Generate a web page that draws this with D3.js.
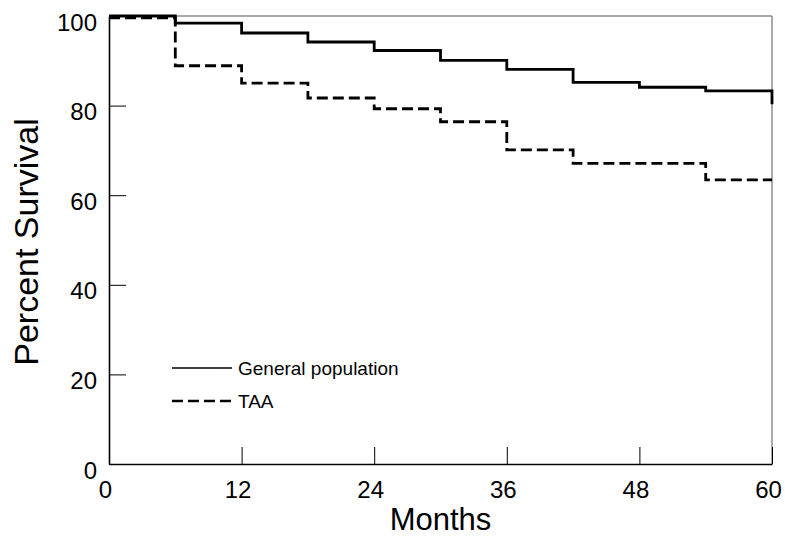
<!DOCTYPE html>
<html>
<head>
<meta charset="utf-8">
<script src="https://cdn.jsdelivr.net/npm/d3@7"></script>
<style>
  body { margin: 0; background: #fff; }
  svg { display: block; font-family: "Liberation Sans", Arial, Helvetica, sans-serif; }
</style>
</head>
<body>
<div id="chart"></div>
<script>
// Kaplan-Meier style survival steps
var months = [0, 6, 12, 18, 24, 30, 36, 42, 48, 54, 60];
var generalPopulation = [100, 98.4, 96.2, 94.2, 92.3, 90.1, 88.1, 85.2, 84.1, 83.3, 80.3];
var taa = [99.6, 88.9, 85.0, 81.7, 79.3, 76.4, 70.1, 67.1, 67.1, 63.4, 63.4];
var xTicks = [0, 12, 24, 36, 48, 60];
var yTicks = [0, 20, 40, 60, 80, 100];
var seriesNames = ["General population", "TAA"];

var margin = {top: 16, right: 13, bottom: 74, left: 109},
    width = 785 - margin.left - margin.right,
    height = 538 - margin.top - margin.bottom;

var x = d3.scaleLinear().domain([0, 60]).range([0, width]);
var y = d3.scaleLinear().domain([0, 100]).range([height, 0]);

var svg = d3.select("#chart")
  .append("svg")
    .attr("width", 785)
    .attr("height", 538)
  .append("g")
    .attr("transform", "translate(" + margin.left + "," + margin.top + ")");

// thin frame on top and right
svg.append("line")
  .attr("x1", 0).attr("x2", width).attr("y1", 0).attr("y2", 0)
  .style("stroke", "#555").style("stroke-width", 1);
svg.append("line")
  .attr("x1", width).attr("x2", width).attr("y1", 0).attr("y2", height)
  .style("stroke", "#555").style("stroke-width", 1);

// axes, ticks pointing inward
var xAxis = d3.axisBottom(x).tickValues(xTicks).tickSizeInner(-17).tickSizeOuter(0).tickPadding(0);
var yAxis = d3.axisLeft(y).tickValues(yTicks).tickSizeInner(-17).tickSizeOuter(0).tickPadding(12);

var gx = svg.append("g")
  .attr("transform", "translate(0," + height + ")")
  .call(xAxis);
var gy = svg.append("g").call(yAxis);

[gx, gy].forEach(function(g) {
  g.select(".domain").style("stroke", "#000").style("stroke-width", 1.6);
  g.selectAll(".tick line").style("stroke", "#000").style("stroke-width", 1);
  g.selectAll(".tick text")
    .style("font-size", "24px")
    .style("fill", "#000")
    .style("font-family", "'Liberation Sans', Arial, sans-serif");
});
gx.selectAll(".tick text").attr("y", 34).attr("dy", 0).attr("dx", -4);
gy.selectAll(".tick text").attr("dy", 14);

// series lines
var line = d3.line()
  .x(function(d) { return x(d[0]); })
  .y(function(d) { return y(d[1]); })
  .curve(d3.curveStepAfter);

var genData = months.map(function(m, i) { return [m, generalPopulation[i]]; });
var taaData = months.map(function(m, i) { return [m, taa[i]]; });

svg.append("path")
  .attr("d", line(taaData))
  .style("fill", "none")
  .style("stroke", "#000")
  .style("stroke-width", 2.8)
  .style("stroke-dasharray", "11,5");

svg.append("path")
  .attr("d", line(genData))
  .style("fill", "none")
  .style("stroke", "#000")
  .style("stroke-width", 2.8);

// legend
var legend = svg.append("g").attr("transform", "translate(63,352)");
seriesNames.forEach(function(name, i) {
  var row = legend.append("g").attr("transform", "translate(0," + (i * 33) + ")");
  row.append("line")
    .attr("x1", 0).attr("x2", 60)
    .style("stroke", "#000")
    .style("stroke-width", i === 0 ? 1.6 : 2.4)
    .style("stroke-dasharray", i === 0 ? null : "11,5");
  row.append("text")
    .attr("x", 66)
    .attr("y", 7)
    .style("font-size", "19px")
    .text(name);
});

// axis titles
svg.append("text")
  .attr("transform", "translate(" + (width / 2) + "," + (height + 66) + ")")
  .style("text-anchor", "middle")
  .style("font-size", "31px")
  .text("Months");

svg.append("text")
  .attr("transform", "translate(" + (38 - margin.left) + "," + (height / 2 + 2) + ") rotate(-90)")
  .style("text-anchor", "middle")
  .style("font-size", "34px")
  .text("Percent Survival");
</script>
</body>
</html>
